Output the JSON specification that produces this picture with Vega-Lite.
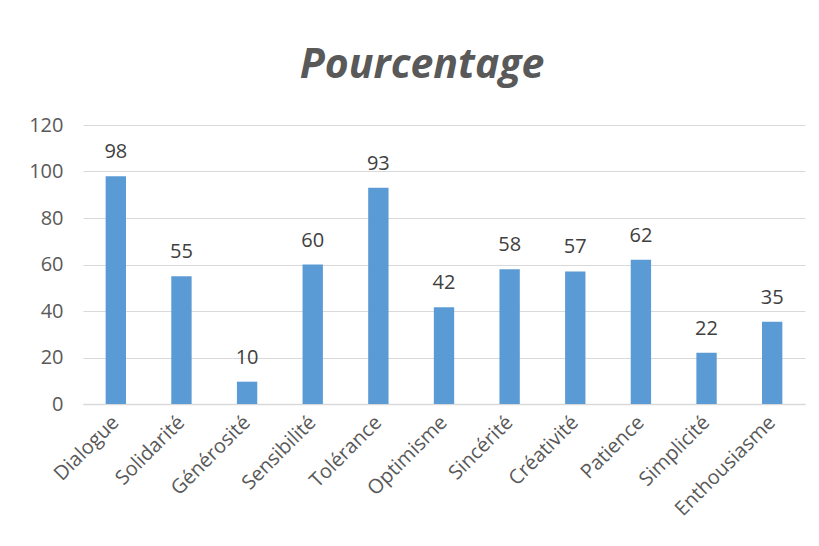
{
  "$schema": "https://vega.github.io/schema/vega-lite/v6.json",
  "width": 722,
  "height": 279,
  "autosize": {"type": "none"},
  "padding": {"left": 83, "top": 125, "right": 14, "bottom": 142},
  "background": "white",
  "title": {
    "text": "Pourcentage",
    "font": "Open Sans",
    "fontSize": 41,
    "fontStyle": "italic",
    "fontWeight": "bold",
    "color": "#595959",
    "anchor": "middle",
    "dx": -22,
    "offset": 28
  },
  "data": {
    "values": [
      {"qualite": "Dialogue", "pct": 98},
      {"qualite": "Solidarité", "pct": 55},
      {"qualite": "Générosité", "pct": 9.6},
      {"qualite": "Sensibilité", "pct": 60},
      {"qualite": "Tolérance", "pct": 93},
      {"qualite": "Optimisme", "pct": 41.6},
      {"qualite": "Sincérité", "pct": 58},
      {"qualite": "Créativité", "pct": 57},
      {"qualite": "Patience", "pct": 62},
      {"qualite": "Simplicité", "pct": 22},
      {"qualite": "Enthousiasme", "pct": 35.4}
    ]
  },
  "encoding": {
    "x": {
      "field": "qualite",
      "type": "nominal",
      "sort": null,
      "title": null,
      "scale": {"paddingInner": 0.69, "paddingOuter": 0.345},
      "axis": {
        "labelAngle": -45,
        "labelAlign": "right",
        "labelBaseline": "middle",
        "labelFont": "Open Sans",
        "labelFontSize": 20,
        "labelColor": "#595959",
        "labelPadding": 15,
        "ticks": false,
        "domainColor": "#d9d9d9",
        "domainWidth": 1.5,
        "grid": false
      }
    },
    "y": {
      "field": "pct",
      "type": "quantitative",
      "title": null,
      "scale": {"domain": [0, 120]},
      "axis": {
        "values": [0, 20, 40, 60, 80, 100, 120],
        "labelFont": "Open Sans",
        "labelFontSize": 20,
        "labelColor": "#595959",
        "labelPadding": 20,
        "ticks": false,
        "domain": false,
        "gridColor": "#d9d9d9",
        "gridWidth": 1.2
      }
    }
  },
  "layer": [
    {"mark": {"type": "bar", "color": "#5b9bd5"}},
    {
      "mark": {
        "type": "text",
        "baseline": "bottom",
        "dy": -14,
        "font": "Open Sans",
        "fontSize": 20,
        "color": "#404040"
      },
      "encoding": {"text": {"field": "pct", "type": "quantitative", "format": ".0f"}}
    }
  ],
  "config": {"view": {"stroke": null}}
}
